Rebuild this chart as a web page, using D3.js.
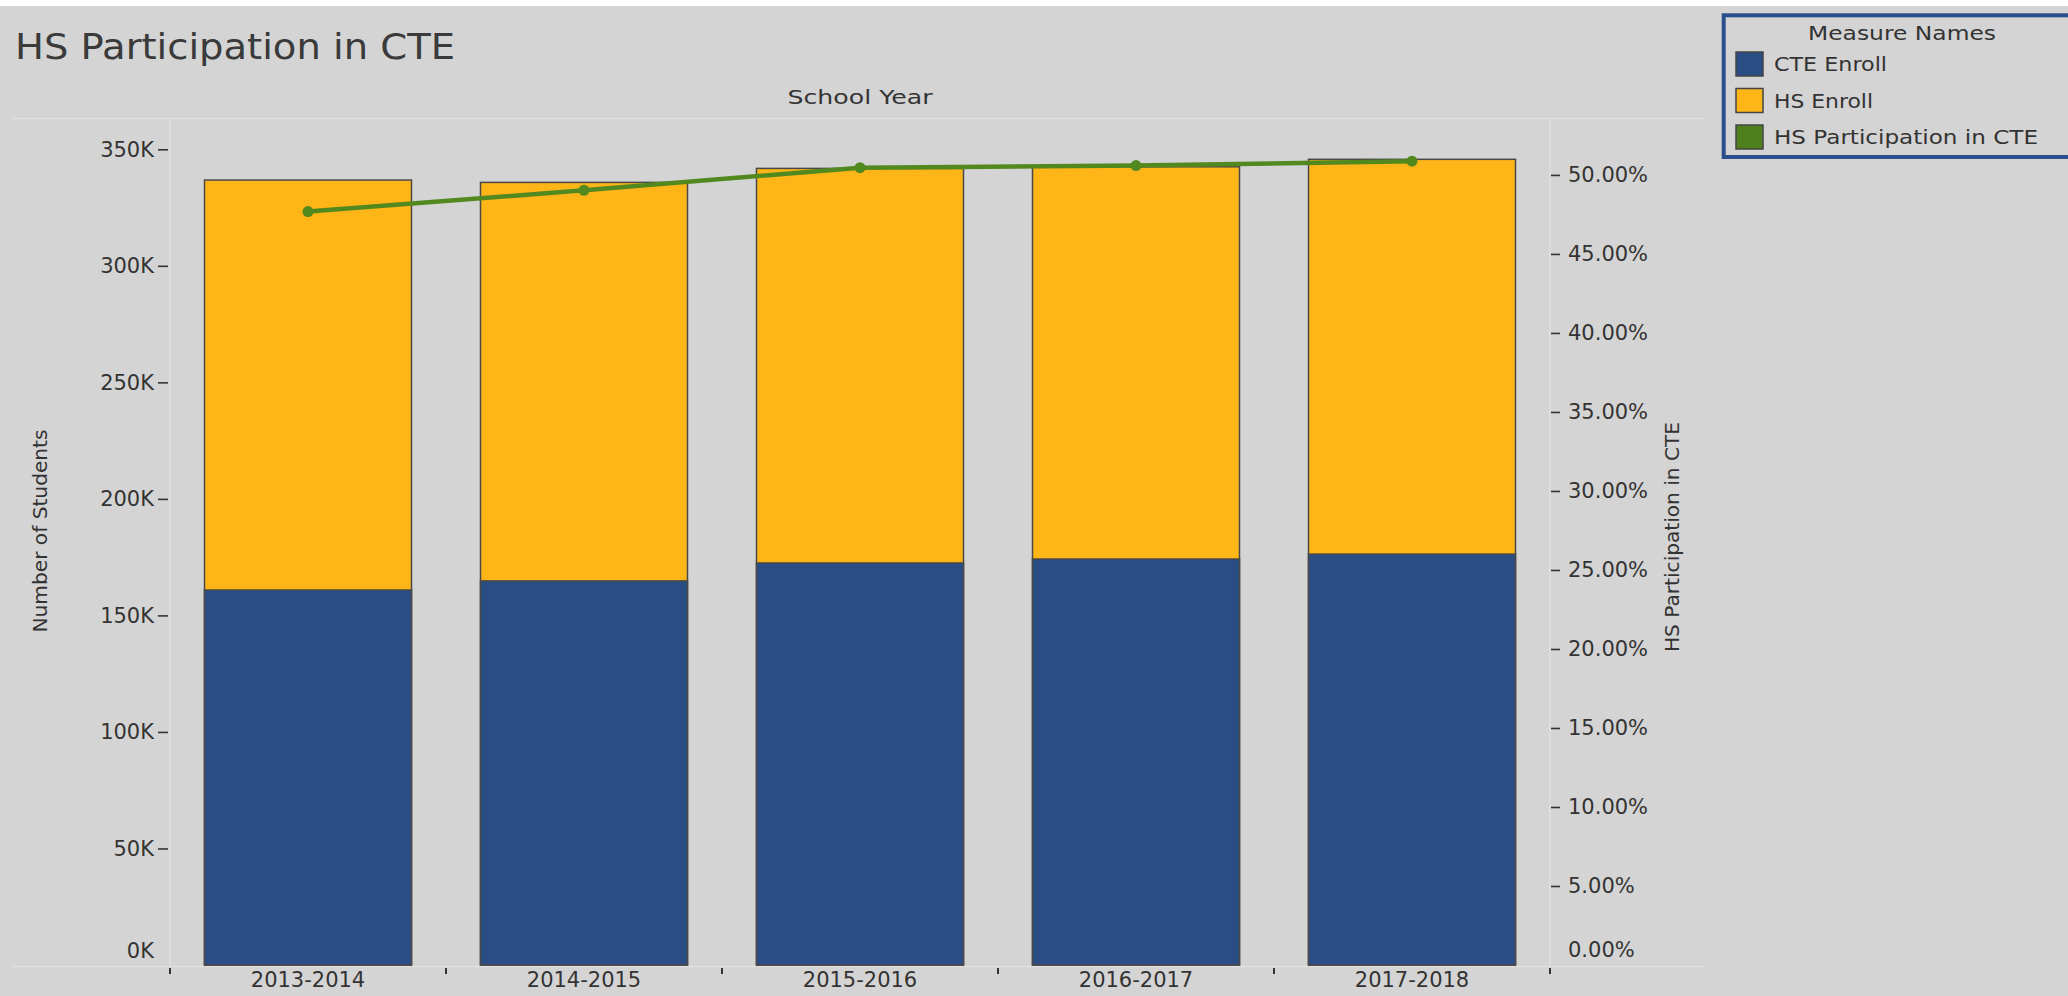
<!DOCTYPE html>
<html>
<head>
<meta charset="utf-8">
<script src="https://cdn.jsdelivr.net/npm/d3@7"></script>
<style>
  html, body { margin: 0; padding: 0; background: #ffffff; }
  svg { display: block; }
  text { font-family: "DejaVu Sans", sans-serif; fill: #333333; }
</style>
</head>
<body>
<script>
// ---------------- data ----------------
const years = ["2013-2014", "2014-2015", "2015-2016", "2016-2017", "2017-2018"];
const cteEnroll = [160900, 164800, 172500, 174200, 176300];
const hsEnroll = [336800, 335800, 341800, 342500, 345700];
const participation = [0.4768, 0.4903, 0.5046, 0.5059, 0.5087];
const countTicks = [0, 50000, 100000, 150000, 200000, 250000, 300000, 350000];
const pctTicks = [0, 0.05, 0.10, 0.15, 0.20, 0.25, 0.30, 0.35, 0.40, 0.45, 0.50];
const legendNames = ["CTE Enroll", "HS Enroll", "HS Participation in CTE"];

// ---------------- styles ----------------
const W = 2068, H = 996;
const colBlue = "#2a4d85", colGold = "#fdb518", colGreen = "#52891f";
const bg = "#d4d4d4";

const svg = d3.select("body").append("svg").attr("width", W).attr("height", H);
svg.append("rect").attr("width", W).attr("height", H).attr("fill", "#ffffff");
svg.append("rect").attr("x", 0).attr("y", 6).attr("width", W).attr("height", H - 6).attr("fill", bg);

const pane = { left: 170, right: 1550, top: 119, bottom: 965 };

const x = d3.scaleBand().domain(years).range([pane.left, pane.right])
  .paddingInner(0.25).paddingOuter(0.125);
const y = d3.scaleLinear().domain([0, 363000]).range([pane.bottom, pane.top]);
const y2 = d3.scaleLinear().domain([0, 0.5354]).range([pane.bottom, pane.top]);

// pane border lines
const lineCol = "#e0e0e0";
svg.append("line").attr("x1", 13).attr("x2", 1703).attr("y1", pane.top - 0.5).attr("y2", pane.top - 0.5)
  .attr("stroke", lineCol).attr("stroke-width", 1.5);
svg.append("line").attr("x1", 13).attr("x2", 1703).attr("y1", pane.bottom + 1.5).attr("y2", pane.bottom + 1.5)
  .attr("stroke", lineCol).attr("stroke-width", 1.5);
svg.append("line").attr("x1", pane.left).attr("x2", pane.left).attr("y1", pane.top).attr("y2", pane.bottom + 1)
  .attr("stroke", lineCol).attr("stroke-width", 1.5);
svg.append("line").attr("x1", pane.right).attr("x2", pane.right).attr("y1", pane.top).attr("y2", pane.bottom + 1)
  .attr("stroke", lineCol).attr("stroke-width", 1.5);

// title
svg.append("text").attr("x", 15).attr("y", 59).attr("font-size", 35)
  .attr("textLength", 440).attr("lengthAdjust", "spacingAndGlyphs")
  .style("fill", "#3a3a3a").text("HS Participation in CTE");

// column header
svg.append("text").attr("x", 860).attr("y", 97).attr("font-size", 20)
  .attr("text-anchor", "middle").attr("dominant-baseline", "central")
  .attr("textLength", 145).attr("lengthAdjust", "spacingAndGlyphs")
  .text("School Year");

// bars: HS enroll behind, CTE enroll in front
const barStroke = "#484848";
svg.append("g").selectAll("rect").data(years).join("rect")
  .attr("x", d => x(d)).attr("width", x.bandwidth())
  .attr("y", (d, i) => y(hsEnroll[i])).attr("height", (d, i) => y(0) - y(hsEnroll[i]))
  .attr("fill", colGold).attr("stroke", barStroke).attr("stroke-width", 1.5);
svg.append("g").selectAll("rect").data(years).join("rect")
  .attr("x", d => x(d)).attr("width", x.bandwidth())
  .attr("y", (d, i) => y(cteEnroll[i])).attr("height", (d, i) => y(0) - y(cteEnroll[i]))
  .attr("fill", colBlue).attr("stroke", barStroke).attr("stroke-width", 1.5);

// line
const cx = d => x(d) + x.bandwidth() / 2;
const line = d3.line().x((d, i) => cx(years[i])).y(d => y2(d));
svg.append("path").datum(participation).attr("d", line)
  .attr("fill", "none").attr("stroke", colGreen).attr("stroke-width", 4.5);
svg.append("g").selectAll("circle").data(participation).join("circle")
  .attr("cx", (d, i) => cx(years[i])).attr("cy", d => y2(d)).attr("r", 5.5)
  .attr("fill", colGreen);

// left axis
const fmtK = d => (d / 1000) + "K";
const gL = svg.append("g").attr("transform", `translate(${pane.left - 2},0)`)
  .call(d3.axisLeft(y).tickValues(countTicks).tickFormat(fmtK).tickSizeInner(10).tickSizeOuter(0).tickPadding(4));
gL.select(".domain").remove();
gL.selectAll(".tick line").attr("stroke", "#333").attr("stroke-width", 1.6);
gL.selectAll(".tick text").attr("font-size", 21).attr("font-family", "DejaVu Sans").style("fill", "#333");
gL.selectAll(".tick").filter(d => d === 0).select("line").remove();
gL.selectAll(".tick").filter(d => d === 0).select("text").attr("dy", "-0.35em");

// right axis
const fmtP = d3.format(".2%");
const gR = svg.append("g").attr("transform", `translate(${pane.right + 1},0)`)
  .call(d3.axisRight(y2).tickValues(pctTicks).tickFormat(fmtP).tickSizeInner(9).tickSizeOuter(0).tickPadding(8));
gR.select(".domain").remove();
gR.selectAll(".tick line").attr("stroke", "#333").attr("stroke-width", 1.6);
gR.selectAll(".tick text").attr("font-size", 21).attr("font-family", "DejaVu Sans").style("fill", "#333");
gR.selectAll(".tick").filter(d => d === 0).select("line").remove();
gR.selectAll(".tick").filter(d => d === 0).select("text").attr("dy", "-0.4em");

// bottom axis: labels centred, ticks at band boundaries
const gB = svg.append("g").attr("transform", `translate(0,${pane.bottom})`)
  .call(d3.axisBottom(x).tickSize(0).tickPadding(10));
gB.select(".domain").remove();
gB.selectAll(".tick text").attr("font-size", 21).attr("font-family", "DejaVu Sans").style("fill", "#333")
  .attr("dy", "0.55em");
const boundaries = years.map(d => x(d) - x.step() * x.paddingInner() / 2);
boundaries[0] = pane.left;
boundaries.push(pane.right);
svg.append("g").selectAll("line").data(boundaries).join("line")
  .attr("x1", d => d).attr("x2", d => d).attr("y1", pane.bottom + 3).attr("y2", pane.bottom + 9)
  .attr("stroke", "#333").attr("stroke-width", 2);

// axis titles
svg.append("text").attr("transform", "translate(40,531) rotate(-90)")
  .attr("font-size", 20).attr("text-anchor", "middle").attr("dominant-baseline", "central")
  .attr("textLength", 203).attr("lengthAdjust", "spacingAndGlyphs")
  .text("Number of Students");
svg.append("text").attr("transform", "translate(1672,537) rotate(-90)")
  .attr("font-size", 20).attr("text-anchor", "middle").attr("dominant-baseline", "central")
  .attr("textLength", 230).attr("lengthAdjust", "spacingAndGlyphs")
  .text("HS Participation in CTE");

// legend
const lg = svg.append("g");
lg.append("rect").attr("x", 1723.7).attr("y", 15.3).attr("width", 420).attr("height", 141.7)
  .attr("fill", bg).attr("stroke", "#2b4f8c").attr("stroke-width", 4);
lg.append("text").attr("x", 1902).attr("y", 33).attr("font-size", 20)
  .attr("text-anchor", "middle").attr("dominant-baseline", "central")
  .attr("textLength", 188).attr("lengthAdjust", "spacingAndGlyphs")
  .text("Measure Names");
const legColors = [colBlue, colGold, "#4e7f1c"];
const legWidths = [113, 99, 264];
const li = lg.selectAll("g.item").data(legendNames).join("g").attr("class", "item")
  .attr("transform", (d, i) => `translate(0,${64 + i * 36.5})`);
li.append("rect").attr("x", 1736).attr("y", -12).attr("width", 27).attr("height", 24)
  .attr("fill", (d, i) => legColors[i]).attr("stroke", "#444").attr("stroke-width", 1.5);
li.append("text").attr("x", 1774).attr("y", 0).attr("font-size", 20).attr("dominant-baseline", "central")
  .attr("textLength", (d, i) => legWidths[i]).attr("lengthAdjust", "spacingAndGlyphs")
  .text(d => d);
</script>
</body>
</html>
